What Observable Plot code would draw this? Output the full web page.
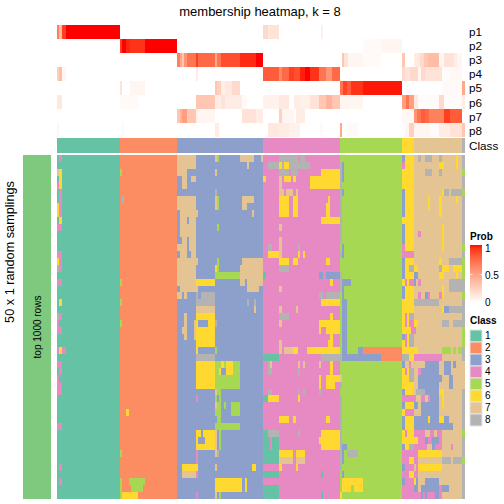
<!DOCTYPE html>
<html><head><meta charset="utf-8">
<script src="https://cdn.jsdelivr.net/npm/d3@7"></script>
<script src="https://cdn.jsdelivr.net/npm/@observablehq/plot@0.6"></script>
<style>
html,body{margin:0;padding:0;background:#fff}
#page{position:relative;width:504px;height:504px;overflow:hidden;font-family:"Liberation Sans",sans-serif;color:#000}
#page svg{position:absolute;background:transparent;overflow:visible}
.t{position:absolute;white-space:nowrap;line-height:1}
</style></head><body><div id="page"></div>
<script>
const classes=[1,2,3,4,5,6,7,8];
const classColors=["#66c2a5","#fc8d62","#8da0cb","#e78ac3","#a6d854","#ffd92f","#e5c494","#b3b3b3"];
const probNames=["p1","p2","p3","p4","p5","p6","p7","p8"];
const samples=408, rows=50;
// class blocks along the sample axis: from, to, class
const classBlocks=[[0,63,1],[63,120,2],[120,206,3],[206,283,4],[283,345,5],[345,357,6],[357,405,7],[405,408,8]];
// membership probabilities: from, to, prob
const p1=[[0,2,.65],[2,5,.35],[5,9,.9],[9,63,1],[206,211,.2],[211,213,.12],[213,222,.15],[264,266,.08]];
const p2=[[63,65,.9],[65,69,1],[69,73,.96],[73,88,.93],[88,120,1],[306,324,.03],[324,345,.05]];
const p3=[[120,123,.65],[123,125,.45],[125,127,.3],[127,130,.55],[130,139,.7],[139,141,.9],[141,158,.75],[158,160,.45],[160,164,.7],[164,183,.85],[183,199,.95],[199,206,1],[285,287,.3],[287,291,.15],[291,306,.05],[306,324,.03],[345,348,.3],[357,360,.1],[360,363,.12],[363,367,.2],[367,371,.3],[371,382,.35],[382,387,.05],[387,391,.15],[391,397,.15],[397,400,.1],[400,405,.05]];
const p4=[[0,2,.25],[2,5,.35],[5,9,.05],[139,141,.1],[206,222,.8],[222,225,.6],[225,232,.75],[232,237,.9],[237,243,.85],[243,248,.97],[248,253,1],[253,262,.93],[262,269,.7],[269,275,.55],[275,283,.75],[345,348,.2],[348,353,.15],[353,361,.2],[361,364,.05],[364,368,.2],[368,385,.15],[385,393,.02],[393,405,.04]];
const p5=[[63,65,.15],[73,88,.05],[158,160,.3],[160,164,.25],[164,168,.08],[168,175,.12],[175,183,.2],[283,286,.7],[286,290,.88],[290,294,.8],[294,306,.93],[306,345,.98],[385,405,.03],[405,408,.45]];
const p6=[[0,5,.12],[63,81,.03],[139,158,.3],[158,164,.1],[164,168,.15],[168,185,.1],[185,190,.03],[206,222,.07],[222,232,.12],[237,243,.1],[243,253,.08],[253,262,.15],[262,269,.3],[269,275,.4],[275,283,.3],[283,306,.05],[345,349,.5],[349,352,.7],[352,357,.5],[357,361,.12],[361,372,.02],[372,382,.03],[382,387,.2],[387,405,.02],[405,408,.1]];
const p7=[[120,123,.3],[123,125,.4],[125,130,.5],[130,139,.3],[139,141,.08],[141,158,.05],[185,199,.15],[199,206,.1],[222,225,.25],[225,237,.05],[239,248,.1],[345,357,.04],[357,360,.55],[360,364,.7],[364,368,.8],[368,372,.75],[372,387,.65],[387,393,.9],[393,405,.8]];
const p8=[[0,2,.05],[65,67,.03],[158,162,.1],[211,222,.12],[222,232,.1],[232,243,.07],[263,266,.03],[283,285,.45],[290,301,.03],[348,352,.05],[352,357,.25],[357,373,.05],[373,382,.02],[382,393,.1],[393,405,.15],[405,408,.3]];
const probRows=[p1,p2,p3,p4,p5,p6,p7,p8];
// sampled class patches: from, to, first row, end row, class
const zone1=[[2,5,0,1,4],[0,2,2,3,7],[2,5,2,5,6],[0,2,4,5,4],[2,5,5,7,4],[0,2,7,9,6],[2,5,7,9,4],[2,5,9,10,6],[0,5,10,11,4],[0,5,14,15,4],[0,2,15,16,6],[2,5,15,17,4],[0,2,16,17,8],[0,5,18,19,4],[2,5,21,22,6],[0,2,23,24,8],[2,5,23,24,4],[0,2,24,25,4],[0,5,25,26,4],[0,2,28,29,4],[2,5,28,29,6],[5,9,28,29,4],[0,5,30,31,4],[2,5,31,32,4],[0,2,32,33,4],[0,5,33,35,4],[0,5,39,40,4],[2,5,45,46,4],[2,5,47,48,4]];
const zone2=[[63,65,2,3,5],[65,67,6,7,8],[63,65,18,19,5],[63,65,21,22,5],[63,65,24,25,5],[69,72,37,38,6],[63,65,43,44,5],[63,65,47,50,5],[72,88,47,48,5],[74,86,48,49,5],[65,81,49,50,6]];
const zone3=[[120,139,0,2,7],[120,130,2,3,7],[125,130,3,5,7],[134,139,3,4,7],[120,139,6,8,7],[123,141,8,9,7],[123,130,9,10,7],[132,139,9,10,7],[123,139,10,12,7],[125,130,12,13,7],[132,139,12,13,7],[120,130,13,14,7],[132,139,13,14,7],[123,130,14,15,7],[134,139,14,15,7],[120,141,15,16,7],[120,139,16,19,7],[139,158,18,19,6],[123,141,19,20,7],[120,125,20,21,7],[127,130,20,21,7],[139,141,20,21,8],[144,158,20,21,8],[139,158,21,22,8],[139,158,22,23,7],[127,130,23,27,7],[137,139,24,27,7],[125,127,25,26,7],[139,158,23,28,6],[141,151,24,25,3],[141,158,28,29,3],[139,141,28,29,6],[158,160,28,29,5],[139,158,29,30,8],[139,158,30,34,6],
[158,183,30,34,5],[164,167,30,31,6],[169,176,30,32,6],[158,162,31,32,5],[162,164,31,32,6],[164,169,31,32,3],[158,160,34,35,7],[160,164,34,35,5],[139,141,35,36,4],[158,160,35,36,5],[160,162,35,36,3],[162,164,35,36,5],[158,160,36,37,7],[160,164,36,37,5],[167,169,36,37,5],[174,183,36,38,5],[158,164,37,38,5],[160,164,38,39,5],[158,183,39,40,5],[139,144,40,41,6],[146,158,40,41,6],[158,160,40,43,7],[160,162,40,41,3],[162,164,40,43,5],[139,141,41,42,6],[148,158,41,42,6],[139,158,42,43,6],[139,141,43,45,4],[158,160,43,44,7],[160,162,43,44,8],[125,141,45,46,6],[158,160,45,46,7],[195,199,45,46,6],[125,139,46,47,7],[139,141,46,47,4],[158,185,47,49,6],[188,190,47,49,6],[139,141,49,50,4],[158,160,49,50,7],[162,164,49,50,5],
[158,160,0,1,7],[160,162,0,1,5],[158,160,2,3,7],[158,160,5,6,8],[158,160,6,8,7],[160,162,6,8,5],[160,162,10,11,5],[160,162,15,16,5],[158,160,16,17,6],[160,162,16,17,5],[158,183,17,18,5],[183,197,0,1,7],[204,206,0,1,7],[190,192,1,2,7],[185,197,6,7,7],[185,190,7,8,7],[195,197,8,9,7],[185,206,15,16,7],[183,206,16,18,7],[183,206,18,19,7],[188,190,18,19,3],[190,202,19,20,7],[190,192,21,22,8],[197,199,21,22,8],[197,199,22,23,7],[158,160,24,25,8]];
const zone4=[[222,241,0,1,8],[243,248,0,1,8],[211,222,1,2,8],[222,225,1,2,6],[225,227,1,2,8],[227,232,1,2,6],[232,253,1,2,8],[222,232,2,3,8],[234,241,2,3,8],[264,283,2,3,6],[206,209,3,4,6],[222,225,3,5,7],[227,234,3,4,6],[236,239,3,4,6],[253,283,3,5,6],[222,227,5,6,7],[229,236,5,6,7],[239,241,5,6,7],[222,232,6,9,6],[236,241,6,9,6],[271,273,6,7,6],[269,273,7,9,6],[264,283,9,10,6],[222,225,10,11,7],[222,225,12,14,7],[211,215,13,14,8],[241,243,13,14,8],[211,222,14,15,6],[222,225,14,15,7],[241,243,14,15,6],[246,248,14,15,6],[222,232,15,16,6],[236,241,15,16,6],[269,273,15,16,6],[222,232,16,17,8],[206,209,17,18,1],[262,266,17,18,3],[269,283,17,18,3],[273,276,18,19,6],[222,225,19,20,7],[262,266,20,21,8],[269,283,20,21,8],[264,283,21,22,6],[222,225,22,23,7],[239,241,22,23,7],[222,232,23,24,8],[273,276,23,24,6],[222,225,24,25,7],[262,283,24,25,6],[262,264,25,26,6],[269,283,25,26,6],[273,276,26,27,6],[222,225,27,28,7],[271,276,27,28,6],[222,225,28,29,7],[227,236,28,29,7],[236,241,28,29,6],[250,283,28,29,6],[206,222,29,30,1],[264,283,29,30,8],[211,213,30,31,8],[213,215,30,31,7],[241,243,30,31,7],[246,248,30,31,7],[262,264,30,31,7],[273,276,30,32,6],[211,215,31,32,8],[241,243,31,32,8],[262,264,32,34,6],[269,283,32,33,6],[269,278,33,34,6],[211,215,34,35,8],[241,243,34,35,8],[246,248,34,35,8],[262,264,34,35,8],[206,211,35,36,1],[211,222,35,36,6],[241,243,35,36,6],[222,232,38,39,6],[236,239,38,39,6],[269,273,38,39,6],[206,211,40,41,1],[211,222,40,41,8],[241,243,40,41,8],[264,283,40,41,6],[206,213,41,43,1],[215,222,41,43,1],[262,283,41,42,6],[264,283,42,43,6],[206,222,43,45,1],[222,236,43,44,6],[239,248,43,44,6],[222,236,44,45,7],[239,248,44,45,7],[222,225,45,46,6],[239,241,45,46,6],[206,222,46,47,1],[264,266,46,47,1],[206,222,48,50,1],[264,266,49,50,1]];
const zone5=[[283,285,1,6,8],[285,287,1,4,3],[285,287,5,6,3],[283,285,6,13,8],[283,285,14,15,8],[285,287,14,15,3],[285,287,13,14,3],[283,285,17,20,8],[285,294,18,19,3],[285,287,19,21,3],[285,290,21,29,3],[301,306,28,29,3],[306,345,28,29,2],[283,285,29,30,8],[285,324,29,30,3],[324,345,29,30,2],[283,285,32,33,7],[283,285,33,34,8],[283,285,35,46,8],[285,290,42,43,3],[285,287,43,45,3],[290,301,43,44,8],[285,287,46,47,3],[285,306,47,48,6],[285,294,48,49,6],[297,306,48,49,6],[283,285,49,50,6]];
const zone6=[[345,348,0,1,3],[345,348,1,2,4],[345,348,5,9,3],[345,348,10,14,3],[345,348,13,14,4],[345,357,14,15,4],[345,348,15,18,3],[352,357,16,17,8],[348,350,18,19,4],[352,357,18,19,4],[345,348,19,21,3],[348,350,23,24,4],[352,357,23,24,8],[348,350,24,25,4],[352,357,24,25,4],[354,357,25,26,4],[345,348,26,27,3],[348,350,26,28,4],[352,357,26,28,8],[345,352,29,30,8],[345,348,30,31,3],[348,352,30,31,7],[352,354,30,31,4],[354,357,30,31,7],[348,350,31,32,4],[352,357,31,33,8],[345,348,34,35,3],[345,357,35,36,4],[345,348,36,37,3],[348,357,37,38,4],[345,348,38,40,3],[348,350,40,41,4],[345,348,42,43,3],[352,357,42,43,8],[345,357,43,44,4],[345,352,44,45,4],[345,348,45,46,3],[348,357,45,46,4],[345,352,46,47,4],[345,348,47,48,3],[348,357,47,48,4],[345,357,48,50,4]];
const zone7=[[361,364,0,1,8],[368,375,0,1,8],[382,385,0,1,8],[399,401,0,2,6],[382,387,1,2,6],[368,375,2,3,8],[382,385,2,3,8],[387,392,5,6,8],[385,387,5,6,6],[394,405,5,6,8],[371,373,6,8,6],[382,385,6,9,6],[399,401,6,7,6],[385,387,10,14,6],[361,364,11,12,4],[382,385,15,16,6],[392,405,15,16,8],[357,361,16,17,6],[382,385,16,17,8],[385,392,16,17,6],[396,405,16,17,6],[357,361,17,18,3],[382,387,17,18,6],[399,401,17,18,6],[357,359,18,19,3],[361,364,18,19,4],[392,405,18,20,8],[385,387,19,20,6],[361,364,20,21,4],[368,371,20,21,3],[371,373,20,21,4],[382,385,20,21,4],[385,387,20,21,6],[357,382,21,22,8],[385,387,22,23,6],[387,392,22,23,3],[392,405,22,23,8],[357,361,24,25,6],[385,392,24,25,8],[396,405,24,25,8],[357,359,25,26,4],[385,394,28,29,5],[396,399,28,29,5],[401,405,28,29,5],[357,361,28,29,6],[357,385,29,30,4],[368,382,30,31,3],[387,394,30,31,3],[396,399,30,31,3],[361,364,31,32,4],[364,382,31,32,3],[387,394,31,32,3],[361,385,32,33,3],[392,396,32,34,3],[361,382,33,34,3],[359,368,34,35,8],[368,382,34,35,3],[382,387,34,35,6],[357,359,35,36,4],[364,368,35,36,4],[371,373,35,36,4],[373,382,35,36,3],[385,387,35,36,6],[357,361,36,37,3],[364,382,36,37,3],[385,387,36,37,6],[364,382,37,38,3],[357,364,38,39,3],[371,373,38,39,6],[364,371,38,39,3],[373,382,38,39,3],[382,387,38,39,6],[387,392,38,39,3],[357,387,39,40,3],[387,396,39,40,3],[357,368,40,41,4],[373,377,40,41,4],[380,385,40,41,4],[357,361,41,42,6],[361,368,41,42,4],[368,371,41,42,3],[371,375,41,42,4],[375,382,41,42,3],[382,385,41,42,4],[357,370,42,43,4],[375,378,42,43,3],[378,385,42,43,4],[394,396,42,43,4],[357,361,43,44,4],[361,385,43,44,6],[357,361,44,45,4],[361,385,44,45,7],[385,394,44,45,8],[396,405,44,45,8],[359,361,45,46,4],[361,385,45,46,6],[357,361,46,47,4],[357,359,47,48,6],[359,361,47,48,3],[368,382,47,48,3],[357,361,48,49,3],[364,382,48,49,3],[382,385,48,49,4],[385,392,48,49,3],[357,364,49,50,4],[364,366,49,50,3],[366,368,49,50,4],[368,370,49,50,3],[370,378,49,50,4],[378,382,49,50,3],[382,385,49,50,4]];
const zone8=[[405,408,2,3,5],[405,408,5,6,5],[405,408,13,14,5],[405,408,15,18,5],[405,408,20,21,5],[405,408,25,28,5],[405,408,30,34,7],[405,408,40,41,5],[405,408,44,45,5]];
const probTicks=[0,0.5,1];
const rampSteps=d3.range(0,1,0.01);

const page=document.getElementById("page");
function place(el,left,top){el.style.left=left+"px";el.style.top=top+"px";page.append(el);}
function label(text,left,top,size,extra){const d=document.createElement("div");d.className="t";d.textContent=text;d.style.left=left+"px";d.style.top=top+"px";d.style.fontSize=size+"px";if(extra)Object.assign(d.style,extra);page.append(d);}
const classScale={type:"ordinal",domain:classes,range:classColors};
const probScale={type:"linear",domain:[0,1],range:["#ffffff","#ff0000"],interpolate:d3.interpolateLab};
const asRect=a=>a.map(([a0,a1,r0,r1,k])=>({a0,a1,r0,r1,k}));

// probabilities
const probData=probRows.flatMap((row,i)=>row.map(([a0,a1,p])=>({a0,a1,p,name:probNames[i]})));
place(Plot.plot({width:408,height:113,marginTop:0,marginBottom:0,marginLeft:0,marginRight:0,
  x:{domain:[0,samples],axis:null},
  y:{domain:probNames,axis:null,padding:0},
  color:probScale,
  marks:[Plot.barX(probData,{x1:"a0",x2:"a1",y:"name",fill:"p",shapeRendering:"crispEdges"})]
}),57,24);
probNames.forEach((n,i)=>label(n,469,26+i*14.1,11.7));
// class row
place(Plot.plot({width:408,height:15,margin:0,
  x:{domain:[0,samples],axis:null},y:{domain:[0,1],axis:null},color:classScale,
  marks:[Plot.rectX(classBlocks.map(([a0,a1,k])=>({a0,a1,k})),{x1:"a0",x2:"a1",y1:0,y2:1,fill:"k",shapeRendering:"crispEdges"})]
}),57,138);
label("Class",469,140,11.7);
// samplings
const base=classBlocks.map(([a0,a1,k])=>({a0,a1,r0:0,r1:rows,k}));
const patches=[zone1,zone2,zone3,zone4,zone5,zone6,zone7,zone8].flatMap(asRect);
place(Plot.plot({width:408,height:343.5,margin:0,
  x:{domain:[0,samples],axis:null},y:{domain:[rows,0],axis:null},color:classScale,
  marks:[Plot.rect(base.concat(patches),{x1:"a0",x2:"a1",y1:"r0",y2:"r1",fill:"k",shapeRendering:"crispEdges"})]
}),57,155);
// left annotation
place(Plot.plot({width:28,height:343.5,margin:0,
  x:{domain:[0,1],axis:null},y:{domain:[0,1],axis:null},
  marks:[Plot.rect([0],{x1:0,x2:1,y1:0,y2:1,fill:"#7fc97f",shapeRendering:"crispEdges"})]
}),23,155);
label("membership heatmap, k = 8",260,5,13,{transform:"translateX(-50%)"});
label("50 x 1 random samplings",10,252,12.7,{transform:"translate(-50%,-50%) rotate(-90deg)"});
label("top 1000 rows",38,327,10,{transform:"translate(-50%,-50%) rotate(-90deg)"});
// prob legend
label("Prob",470,232,10,{fontWeight:"bold"});
place(Plot.plot({width:12,height:58,margin:0,
  x:{domain:[0,1],axis:null},y:{domain:[0,1],axis:null},color:probScale,
  marks:[
    Plot.rect(rampSteps,{x1:0,x2:1,y1:d=>d,y2:d=>d+0.01,fill:d=>d,shapeRendering:"crispEdges"}),
    Plot.ruleY([0.5],{x1:0,x2:0.2,stroke:"#fff",strokeOpacity:0.7}),
    Plot.ruleY([0.5],{x1:0.8,x2:1,stroke:"#fff",strokeOpacity:0.7})
  ]
}),470,245);
probTicks.forEach((v,i)=>label(String(v),485,298-i*27,10));
// class legend
label("Class",470,316,10,{fontWeight:"bold"});
place(Plot.plot({width:12,height:96,margin:0,
  x:{domain:[0,1],axis:null},y:{domain:classes,axis:null,padding:0},color:classScale,
  marks:[Plot.barX(classes,{x1:0,x2:1,y:d=>d,fill:d=>d,stroke:"#e6e6e6",strokeWidth:1})]
}),470,330);
classes.forEach((k,i)=>label(String(k),485,331+i*12,10));
</script></body></html>
